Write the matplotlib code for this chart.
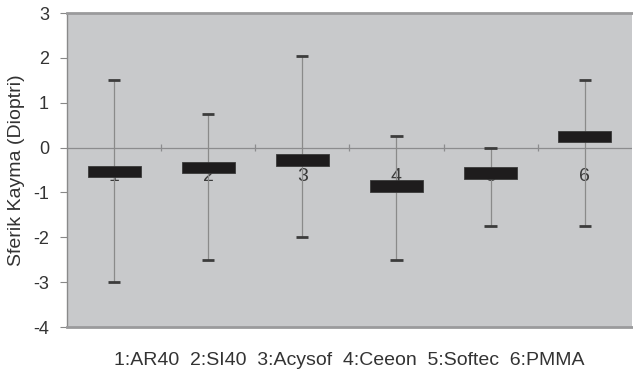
import numpy as np
import matplotlib.pyplot as plt

plt.rcParams['font.family'] = ['Liberation Sans', 'DejaVu Sans']
plt.rcParams['axes.unicode_minus'] = False

# values (Dioptri)
groups = ['1', '2', '3', '4', '5', '6']
whisker_hi = [1.5, 0.75, 2.05, 0.25, 0.0, 1.5]
whisker_lo = [-3.0, -2.5, -2.0, -2.5, -1.75, -1.75]
box_hi = [-0.40, -0.31, -0.14, -0.72, -0.44, 0.38]
box_lo = [-0.66, -0.56, -0.42, -0.98, -0.70, 0.12]
label_y = -0.64
xlabel = '1:AR40  2:SI40  3:Acysof  4:Ceeon  5:Softec  6:PMMA'

pos = np.arange(1, len(groups) + 1)
hi = np.array(box_hi)
lo = np.array(box_lo)

fig = plt.figure(figsize=(6.33, 3.75), dpi=100)
ax = fig.add_axes([0.106, 0.128, 0.892, 0.837])
ax.set_facecolor('#c8c9cb')

# zero line with category ticks
ax.axhline(0, color='#8c8c8e', lw=0.9, zorder=1)
ax.vlines(pos[:-1] + 0.5, -0.08, 0.08, color='#8c8c8e', lw=0.9, zorder=1)

# group numbers (sit behind the boxes)
for p, g in zip(pos, groups):
    ax.text(p, label_y, g, ha='center', va='center', fontsize=14,
            color='#3a3a3a', zorder=2)

# whiskers and caps
ax.vlines(pos, whisker_lo, whisker_hi, color='#8a8a8a', lw=0.9, zorder=3)
ax.hlines(whisker_hi, pos - 0.065, pos + 0.065, color='#3c3c3c', lw=2, zorder=3)
ax.hlines(whisker_lo, pos - 0.065, pos + 0.065, color='#3c3c3c', lw=2, zorder=3)

# boxes
ax.bar(pos, hi - lo, bottom=lo, width=0.56, color='#1e1c1d',
       edgecolor='#3a3a3a', lw=0.6, zorder=4)

ax.set_xlim(0.5, 6.5)
ax.set_ylim(-4, 3)
ax.set_yticks(range(-4, 4))
ax.set_xticks([])
ax.tick_params(axis='y', direction='out', length=5, color='#888888',
               labelsize=13, labelcolor='#333333', pad=8)

for side in ['top', 'bottom']:
    ax.spines[side].set_color('#9a9a9c')
    ax.spines[side].set_linewidth(2)
ax.spines['left'].set_color('#8a8a8a')
ax.spines['left'].set_linewidth(1)
ax.spines['right'].set_visible(False)

ax.set_ylabel('Sferik Kayma (Dioptri)', fontsize=14, color='#333333', labelpad=6)
ax.set_xlabel(xlabel, fontsize=14, color='#333333', labelpad=18)

fig.savefig('out.png', dpi=100)
